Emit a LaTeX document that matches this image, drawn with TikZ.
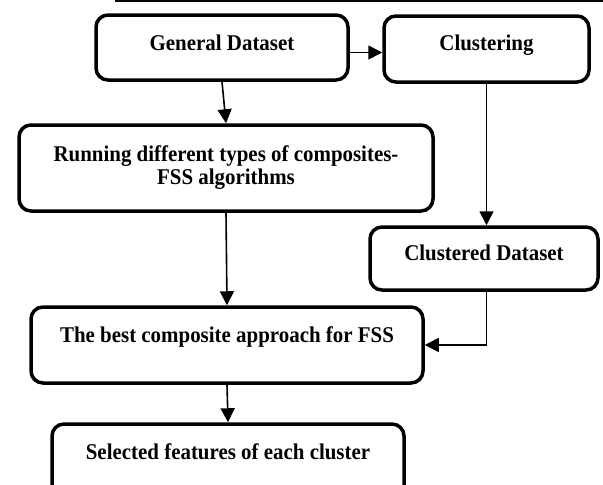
\documentclass[tikz,border=0pt]{standalone}
\usepackage{fontspec}
\setmainfont{Liberation Serif}[FakeStretch=0.93]
\usetikzlibrary{arrows.meta}

\begin{document}
\begin{tikzpicture}[x=1pt, y=-1pt,
    stage/.style={draw, line width=3.5pt, rounded corners=12pt, inner sep=0pt,
        font=\fontsize{22.5}{23}\selectfont\bfseries, align=center},
    lift/.style={text height=15pt, text depth=#1},
    flow/.style={line width=1.6pt, -{Triangle[length=14pt, width=14pt]}}]
	\useasboundingbox (0,0) rectangle (603,485);
	\clip (0,0) rectangle (603,485);

	% rule above the chart
	\draw[line width=1.2pt] (115,1) -- (603,1);

	\node[stage, lift=9pt, minimum width=252pt, minimum height=65pt] (gds) at (222,47.5) {General Dataset};
	\node[stage, lift=12pt, minimum width=205pt, minimum height=66pt] (clu) at (486.5,49) {Clustering};
	\node[stage, minimum width=414pt, minimum height=86pt] (run) at (226,168)
		{Running different types of composites-\\FSS algorithms};
	\node[stage, lift=11pt, minimum width=228pt, minimum height=63pt] (cds) at (484,258.5) {Clustered Dataset};
	\node[stage, lift=20pt, minimum width=392pt, minimum height=76pt] (best) at (227,345)
		{The best composite approach for FSS};
	\node[stage, lift=20pt, minimum width=352pt, minimum height=76pt] (sel) at (228,462)
		{Selected features of each cluster};

	\draw[flow] ([yshift=-5pt]gds.east) -- ([yshift=-5pt]gds.east -| clu.west);
	\draw[flow] (gds.south) -- (run.north);
	\draw[flow] (clu.south) -- (clu.south |- cds.north);
	\draw[flow] (run.south) -- (best.north);
	\draw[flow] (cds.south -| clu.south) |- (best.east);
	\draw[flow] (best.south) -- (sel.north);
\end{tikzpicture}
\end{document}
